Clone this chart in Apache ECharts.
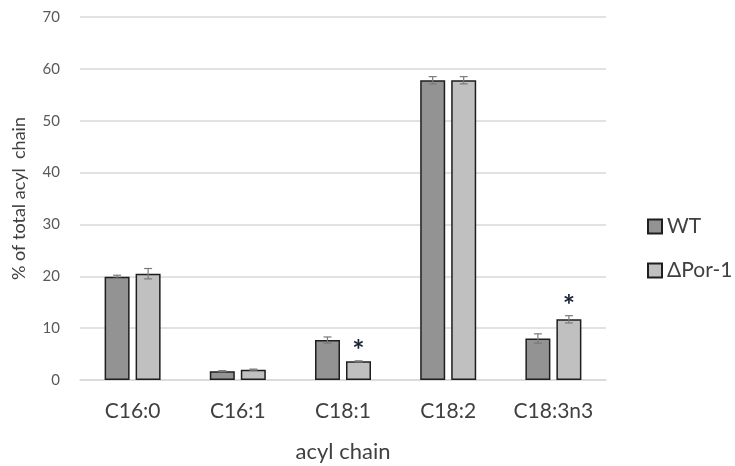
<!DOCTYPE html>
<html><head><meta charset="utf-8">
<script src="https://cdn.jsdelivr.net/npm/echarts@6/dist/echarts.min.js"></script>
<style>html,body{margin:0;padding:0;background:#fff}#c{width:735px;height:466px}</style>
</head><body><div id="c"></div>
<script>
const categories = ['C16:0', 'C16:1', 'C18:1', 'C18:2', 'C18:3n3'];
const seriesNames = ['WT', '\u0394Por-1'];
const wtValues = [19.9, 1.7, 7.7, 57.8, 8.0];
const wtErrors = [0.3, 0.1, 0.6, 0.7, 0.9];
const porValues = [20.5, 2.0, 3.6, 57.8, 11.7];
const porErrors = [1.0, 0.1, 0.1, 0.7, 0.7];
const porSignificant = [false, false, true, false, true];
const yTicks = [0, 10, 20, 30, 40, 50, 60, 70];

const BAR_W = 25, GAP = 6;
const font = 'Lato, "Open Sans", sans-serif';

function errSeries(values, errors, sig, offset) {
  return {
    type: 'custom',
    z: 5,
    silent: true,
    data: values.map((v, i) => [i, v, errors[i], sig ? (sig[i] ? 1 : 0) : 0]),
    renderItem: function (params, api) {
      const i = api.value(0), v = api.value(1), e = api.value(2), s = api.value(3);
      const hi = api.coord([i, v + e]);
      const lo = api.coord([i, v - e]);
      const x = hi[0] + offset;
      const cap = 4;
      const st = { stroke: '#7a7a7a', lineWidth: 1.2 };
      const children = [
        { type: 'line', shape: { x1: x, y1: hi[1], x2: x, y2: lo[1] }, style: st },
        { type: 'line', shape: { x1: x - cap, y1: hi[1], x2: x + cap, y2: hi[1] }, style: st },
        { type: 'line', shape: { x1: x - cap, y1: lo[1], x2: x + cap, y2: lo[1] }, style: st }
      ];
      if (s) {
        children.push({ type: 'text', style: { text: '*', x: x, y: hi[1] + 4, align: 'center', verticalAlign: 'bottom', fill: '#1a2238', font: 'bold 29px ' + font } });
      }
      return { type: 'group', children: children };
    }
  };
}

const chart = echarts.init(document.getElementById('c'));
chart.setOption({
  animation: false,
  grid: { left: 80, right: 129, top: 17, bottom: 86, outerBoundsMode: 'none', containLabel: false },
  legend: {
    orient: 'vertical', left: 642, top: 211, itemGap: 23,
    itemWidth: 14, itemHeight: 14, icon: 'rect',
    textStyle: { fontSize: 21, color: '#404040', fontFamily: font },
    data: seriesNames
  },
  xAxis: {
    type: 'category', data: categories,
    name: 'acyl chain', nameLocation: 'middle', nameGap: 61,
    nameTextStyle: { fontSize: 22, color: '#404040', fontFamily: font },
    axisLine: { lineStyle: { color: '#d9d9d9', width: 1.5 } },
    axisTick: { show: false },
    axisLabel: { fontSize: 21, color: '#404040', fontFamily: font, margin: 21 }
  },
  yAxis: {
    type: 'value', min: yTicks[0], max: yTicks[yTicks.length - 1], interval: 10,
    name: '% of total acyl  chain', nameLocation: 'middle', nameGap: 52, nameRotate: 90,
    nameTextStyle: { fontSize: 18, color: '#404040', fontFamily: font },
    axisLine: { show: false }, axisTick: { show: false },
    axisLabel: { fontSize: 15, color: '#595959', fontFamily: font, margin: 20 },
    splitLine: { lineStyle: { color: '#d9d9d9', width: 1.5 } }
  },
  series: [
    { name: seriesNames[0], type: 'bar', data: wtValues, barWidth: BAR_W, barGap: (GAP / BAR_W * 100) + '%',
      itemStyle: { color: '#939393', borderColor: '#1e1e1e', borderWidth: 1.5 } },
    { name: seriesNames[1], type: 'bar', data: porValues, barWidth: BAR_W, barGap: (GAP / BAR_W * 100) + '%',
      itemStyle: { color: '#c0c0c0', borderColor: '#1e1e1e', borderWidth: 1.5 } },
    errSeries(wtValues, wtErrors, null, -(BAR_W + GAP) / 2),
    errSeries(porValues, porErrors, porSignificant, (BAR_W + GAP) / 2)
  ]
});
</script></body></html>
